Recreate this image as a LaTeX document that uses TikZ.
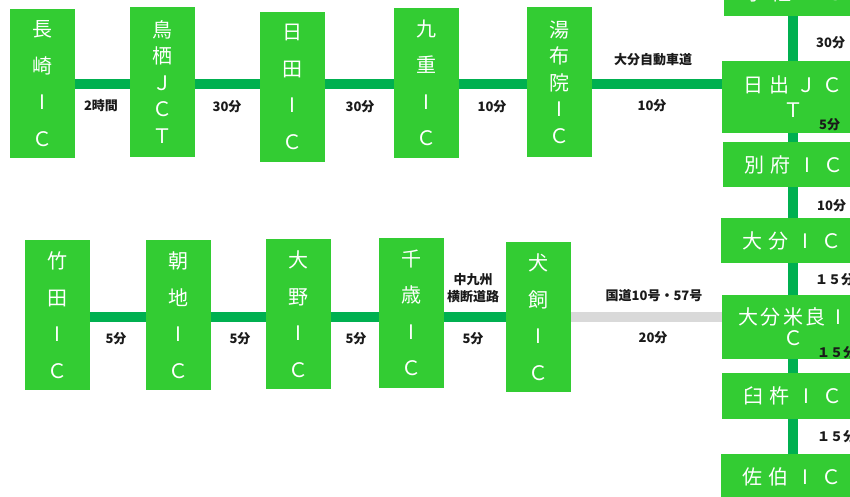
\documentclass[tikz,border=0pt]{standalone}
\usepackage{fontspec}
\newfontfamily\jp{Noto Sans CJK JP}
\pgfdeclarelayer{background}
\pgfsetlayers{background,main}
\definecolor{boxgreen}{RGB}{51,204,51}
\definecolor{linegreen}{RGB}{0,176,80}
\definecolor{roadgray}{RGB}{217,217,217}
\definecolor{labelc}{RGB}{26,26,26}
\newcommand\gp{\hspace{6.3pt}}
\newcommand\fI{\makebox[1em]{I}}
\tikzset{
  vbox/.style={fill=boxgreen, text=white, minimum width=65pt, minimum height=150pt, inner sep=0pt, align=center, font=\jp\fontsize{20}{36.5}\selectfont},
  vboxfive/.style={vbox, font=\jp\fontsize{20}{26.5}\selectfont},
  hbox/.style={fill=boxgreen, text=white, minimum width=142pt, minimum height=45pt, inner sep=0pt, align=center, font=\jp\fontsize{20}{25}\selectfont},
  lbl/.style={text=labelc, font=\jp\bfseries\fontsize{13}{17}\selectfont, inner sep=0pt, align=center},
  road/.style={line width=10pt, draw=linegreen},
  natroad/.style={line width=10pt, draw=roadgray},
}
\begin{document}
\begin{tikzpicture}[x=1pt,y=-1pt]
\useasboundingbox (0,0) rectangle (850,496);
\clip (0,0) rectangle (850,496);
% top row
\node[vbox, minimum height=149pt] (nagasaki) at (42.5,83.5) {長\\崎\\\fI\\Ｃ};
\node[vboxfive] (tosu) at (162.5,82) {鳥\\栖\\Ｊ\\Ｃ\\Ｔ};
\node[vbox] (hita) at (292.5,87) {日\\田\\\fI\\Ｃ};
\node[vbox] (kokonoe) at (426.5,83) {九\\重\\\fI\\Ｃ};
\node[vboxfive] (yufuin) at (559.5,82) {湯\\布\\院\\\fI\\Ｃ};
% right column
\node[hbox, minimum height=46pt] (usa) at (795,-7) {宇\gp 佐\gp \fI\gp Ｃ};
\node[hbox, minimum height=72pt] (hiji) at (793,97) {日\gp 出\gp Ｊ\gp Ｃ\\Ｔ};
\node[hbox] (beppu) at (794,164.5) {別\gp 府\gp \fI\gp Ｃ};
\node[hbox] (oita) at (792,240.5) {大\gp 分\gp \fI\gp Ｃ};
\node[hbox, minimum height=64pt, font=\jp\fontsize{20}{21}\selectfont] (mera) at (793,327) {大\hspace{2.5pt}分\hspace{2.5pt}米\hspace{2.5pt}良\hspace{2.5pt}\fI\\Ｃ};
\node[hbox, minimum height=46pt] (usuki) at (793,396) {臼\gp 杵\gp \fI\gp Ｃ};
\node[hbox, minimum height=46pt] (saiki) at (792,477) {佐\gp 伯\gp \fI\gp Ｃ};
% bottom row
\node[vbox] (taketa) at (57.5,315) {竹\\田\\\fI\\Ｃ};
\node[vbox] (asaji) at (178.5,315) {朝\\地\\\fI\\Ｃ};
\node[vbox] (ono) at (298.5,314) {大\\野\\\fI\\Ｃ};
\node[vbox] (chitose) at (411.5,313) {千\\歳\\\fI\\Ｃ};
\node[vbox] (inukai) at (538.5,317) {犬\\飼\\\fI\\Ｃ};
% connectors
\coordinate (topline) at (0,84);
\coordinate (botline) at (0,317);
\coordinate (vline) at (793,0);
\begin{pgfonlayer}{background}
\draw[road] (nagasaki.east |- topline) -- (tosu.west |- topline);
\draw[road] (tosu.east |- topline) -- (hita.west |- topline);
\draw[road] (hita.east |- topline) -- (kokonoe.west |- topline);
\draw[road] (kokonoe.east |- topline) -- (yufuin.west |- topline);
\draw[road] (yufuin.east |- topline) -- (hiji.west |- topline);
\draw[road] (usa.south -| vline) -- (hiji.north -| vline);
\draw[road] (hiji.south -| vline) -- (beppu.north -| vline);
\draw[road] (beppu.south -| vline) -- (oita.north -| vline);
\draw[road] (oita.south -| vline) -- (mera.north -| vline);
\draw[road] (mera.south -| vline) -- (usuki.north -| vline);
\draw[road] (usuki.south -| vline) -- (saiki.north -| vline);
\draw[road] (taketa.east |- botline) -- (asaji.west |- botline);
\draw[road] (asaji.east |- botline) -- (ono.west |- botline);
\draw[road] (ono.east |- botline) -- (chitose.west |- botline);
\draw[road] (chitose.east |- botline) -- (inukai.west |- botline);
\draw[natroad] (inukai.east |- botline) -- (mera.west |- botline);
\end{pgfonlayer}
% labels
\node[lbl] (l1) at (101,106) {2時間};
\node[lbl] (l2) at (227,107) {30分};
\node[lbl] (l3) at (360,107) {30分};
\node[lbl] (l4) at (492,107) {10分};
\node[lbl] (l5) at (653,60) {大分自動車道};
\node[lbl] (l6) at (652,106) {10分};
\node[lbl, anchor=west] (r1) at (816,43) {30分};
\node[lbl, anchor=west] (r2) at (819,125) {5分};
\node[lbl, anchor=west] (r3) at (817,206) {10分};
\node[lbl, anchor=west] (r4) at (815,280) {１５分};
\node[lbl, anchor=west] (r5) at (817,353) {１５分};
\node[lbl, anchor=west] (r6) at (817,437) {１５分};
\node[lbl] (b1) at (116,339) {5分};
\node[lbl] (b2) at (240,339) {5分};
\node[lbl] (b3) at (356,339) {5分};
\node[lbl] (b4) at (473,339) {5分};
\node[lbl] (b5) at (473,288) {中九州\\横断道路};
\node[lbl] (b6) at (654,296) {国道10号・57号};
\node[lbl] (b7) at (653,338) {20分};
\end{tikzpicture}
\end{document}
